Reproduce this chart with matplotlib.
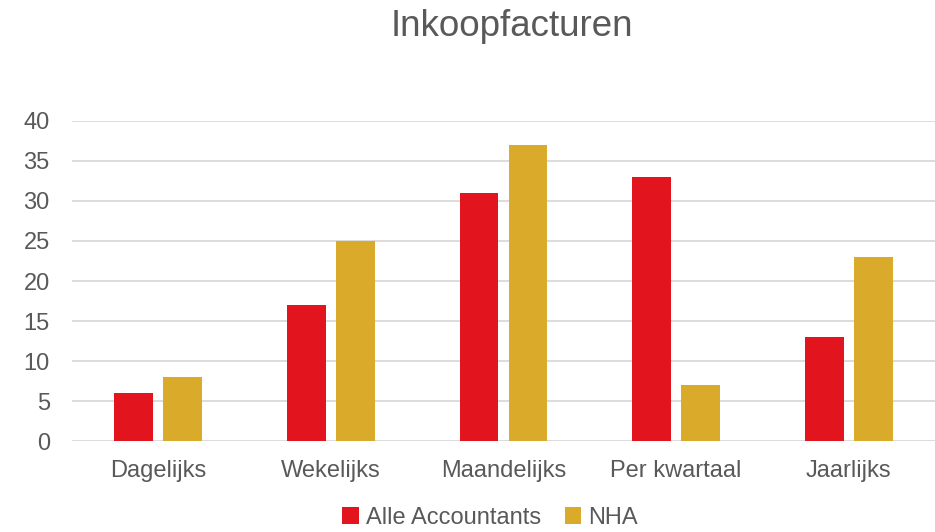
import numpy as np
import matplotlib.pyplot as plt

plt.rcParams['font.family'] = ['Liberation Sans', 'DejaVu Sans']

categories = ['Dagelijks', 'Wekelijks', 'Maandelijks', 'Per kwartaal', 'Jaarlijks']
alle = [6, 17, 31, 33, 13]
nha = [8, 25, 37, 7, 23]
series_names = ['Alle Accountants', 'NHA']
yticks = [0, 5, 10, 15, 20, 25, 30, 35, 40]

red = '#e2141e'
gold = '#daab2b'
grey_txt = '#595959'

fig = plt.figure(figsize=(9.35, 5.32), dpi=100)
ax = fig.add_axes([0.077, 0.171, 0.923, 0.6016])

x = np.arange(len(categories))
w = 0.225
ax.bar(x - 0.142, alle, width=w, color=red, label=series_names[0], zorder=3)
ax.bar(x + 0.142, nha, width=w, color=gold, label=series_names[1], zorder=3)

ax.set_xlim(-0.5, len(categories) - 0.5)
ax.set_ylim(0, 40)
ax.set_yticks(yticks)
ax.set_xticks(x)
ax.set_xticklabels(categories)
ax.grid(axis='y', color='#d9d9d9', linewidth=1.3, zorder=0)
for s in ax.spines.values():
    s.set_visible(False)
ax.tick_params(length=0, labelsize=17, labelcolor=grey_txt)
ax.tick_params(axis='x', pad=14)
ax.tick_params(axis='y', pad=16)

fig.text(512 / 935, 1 - 26 / 532, 'Inkoopfacturen', ha='center', va='center',
         fontsize=26.5, color=grey_txt)

fig.legend(loc='center', bbox_to_anchor=(490 / 935, 1 - 518 / 532), ncol=2,
           frameon=False, fontsize=17, labelcolor=grey_txt, handlelength=0.7,
           handleheight=0.7, handletextpad=0.3, columnspacing=1.0)

fig.savefig('out.png', dpi=100)
